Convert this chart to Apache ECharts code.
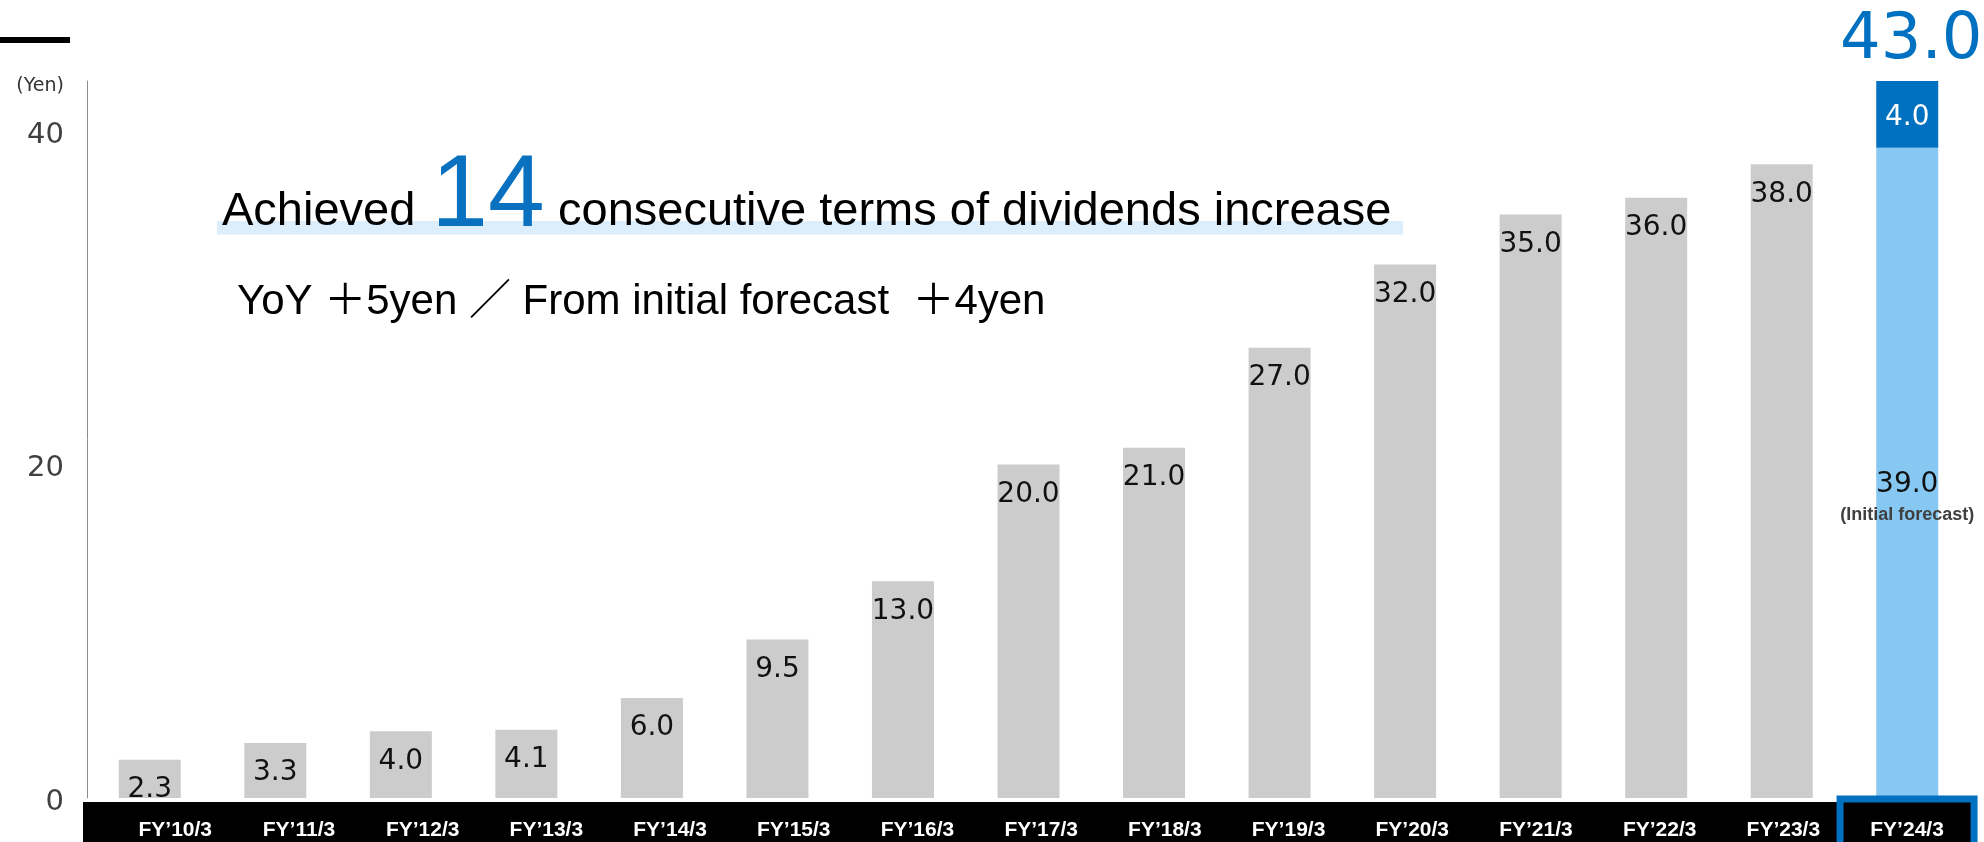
<!DOCTYPE html>
<html><head><meta charset="utf-8">
<script src="https://cdn.jsdelivr.net/npm/echarts@6/dist/echarts.min.js"></script>
<style>html,body{margin:0;padding:0;background:#fff}#c{width:1984px;height:842px}</style>
</head><body><div id="c"></div>
<script>
const categories = ['FY’10/3','FY’11/3','FY’12/3','FY’13/3','FY’14/3','FY’15/3','FY’16/3','FY’17/3','FY’18/3','FY’19/3','FY’20/3','FY’21/3','FY’22/3','FY’23/3','FY’24/3'];
const dividends = [2.3, 3.3, 4.0, 4.1, 6.0, 9.5, 13.0, 20.0, 21.0, 27.0, 32.0, 35.0, 36.0, 38.0, null];
const initialForecast = [null, null, null, null, null, null, null, null, null, null, null, null, null, null, 39.0];
const increase = [null, null, null, null, null, null, null, null, null, null, null, null, null, null, 4.0];
const highlightCategory = 'FY’24/3';
const yTickInterval = 20;
const yUnit = '(Yen)';
const headline = ['Achieved', '14', 'consecutive terms of dividends increase'];
const subline = 'YoY ＋5yen ／ From initial forecast  ＋4yen';
const forecastNote = '(Initial forecast)';

const totals = categories.map((_, i) => increase[i] == null ? null : (initialForecast[i] || 0) + increase[i]);
const totalMarker = totals.map(v => v == null ? null : 0);
const yMax = Math.max(...totals.filter(v => v != null), ...dividends.filter(v => v != null));

const chart = echarts.init(document.getElementById('c'), null, {renderer: 'canvas'});
const numFont = 'DejaVu Sans';
const txtFont = 'Liberation Sans, Arial, Noto Sans CJK JP';

chart.setOption({
  animation: false,
  backgroundColor: '#ffffff',
  grid: [
    {left: 87, width: 1883, top: 81, height: 717, outerBoundsMode: 'none', containLabel: false},
    {left: 113.4, width: 1855.5, top: 81, height: 717, outerBoundsMode: 'none', containLabel: false}
  ],
  xAxis: [
    {type: 'category', gridIndex: 0, data: categories, axisLine: {show: false}, axisTick: {show: false}, axisLabel: {show: false}},
    {type: 'category', gridIndex: 1, data: categories, z: 10,
      axisLine: {show: false}, axisTick: {show: false},
      axisLabel: {
        show: true, interval: 0, margin: 4.5, verticalAlign: 'top',
        formatter: v => v === highlightCategory ? '{h|' + v + '}' : '{n|' + v + '}',
        rich: {
          n: {color: '#fff', fontFamily: txtFont, fontWeight: 'bold', fontSize: 21, height: 55, lineHeight: 55, align: 'center', verticalAlign: 'middle'},
          h: {color: '#fff', fontFamily: txtFont, fontWeight: 'bold', fontSize: 21, height: 55, lineHeight: 55, width: 127, align: 'center', verticalAlign: 'middle',
              backgroundColor: '#000', borderColor: '#0070C0', borderWidth: 7}
        }
      }}
  ],
  yAxis: [
    {type: 'value', gridIndex: 0, min: 0, max: yMax, interval: yTickInterval,
      name: yUnit, nameLocation: 'end', nameGap: -5,
      nameTextStyle: {fontFamily: numFont, fontSize: 19, color: '#333', align: 'right', verticalAlign: 'middle', padding: [0, 23, 0, 0]},
      axisLine: {show: true, lineStyle: {color: '#8c8c8c', width: 1}},
      axisTick: {show: false}, splitLine: {show: false},
      axisLabel: {margin: 23, showMaxLabel: false,
        formatter: v => '{v|' + v + '}',
        rich: {v: {fontFamily: numFont, fontSize: 29, color: '#404040', padding: [8, 0, 0, 0]}}}},
    {type: 'value', gridIndex: 1, show: false, min: 0, max: yMax}
  ],
  series: [
    {name: 'Dividend', type: 'bar', stack: 'd', data: dividends, barWidth: 62,
      itemStyle: {color: '#CCCCCC'},
      label: {show: true, position: 'insideTop', distance: 16, fontFamily: numFont, fontSize: 28, color: '#111',
        formatter: p => p.value.toFixed(1)}},
    {name: 'Initial forecast', type: 'bar', stack: 'd', data: initialForecast, barWidth: 62,
      itemStyle: {color: '#86C8F2'},
      label: {show: true, position: 'inside', offset: [0, 27],
        formatter: p => '{a|' + p.value.toFixed(1) + '}\n{b|' + forecastNote + '}',
        rich: {
          a: {fontFamily: numFont, fontSize: 28, color: '#111', lineHeight: 30, align: 'center'},
          b: {fontFamily: txtFont, fontSize: 18, fontWeight: 'bold', color: '#404040', lineHeight: 30, align: 'center'}
        }}},
    {name: 'Increase', type: 'bar', stack: 'd', data: increase, barWidth: 62,
      itemStyle: {color: '#0070C0'},
      label: {show: true, position: 'inside', offset: [0, 3], fontFamily: numFont, fontSize: 28, color: '#fff',
        formatter: p => p.value.toFixed(1)}},
    {name: 'Total', type: 'bar', stack: 'd', data: totalMarker, barWidth: 62,
      itemStyle: {color: 'rgba(0,0,0,0)'},
      label: {show: true, position: 'top', distance: 8, offset: [4, 0], fontFamily: numFont, fontSize: 64, color: '#0070C0',
        formatter: p => totals[p.dataIndex].toFixed(1)}}
  ],
  graphic: [
    {type: 'rect', z: 0, shape: {x: 0, y: 37, width: 70, height: 6}, style: {fill: '#000'}},
    {type: 'rect', z: 0, shape: {x: 83, y: 802, width: 1887, height: 40}, style: {fill: '#000'}},
    {type: 'rect', z: 0, shape: {x: 217, y: 221, width: 1186, height: 13.5}, style: {fill: '#DCEEFC'}},
    {type: 'text', z: 1, x: 222, y: 212.4, style: {text: headline[0], fontFamily: txtFont, fontSize: 47, fill: '#000', align: 'left', verticalAlign: 'middle'}},
    {type: 'text', z: 1, x: 488, y: 198, style: {text: headline[1], fontFamily: txtFont, fontSize: 102, fill: '#0A70C0', align: 'center', verticalAlign: 'middle'}},
    {type: 'text', z: 1, x: 558, y: 212.4, style: {text: headline[2], fontFamily: txtFont, fontSize: 47, fill: '#000', align: 'left', verticalAlign: 'middle'}},
    {type: 'text', z: 1, x: 237, y: 302, style: {text: subline, fontFamily: txtFont, fontSize: 42, fill: '#000', align: 'left', verticalAlign: 'middle'}}
  ]
});
</script>
</body></html>
